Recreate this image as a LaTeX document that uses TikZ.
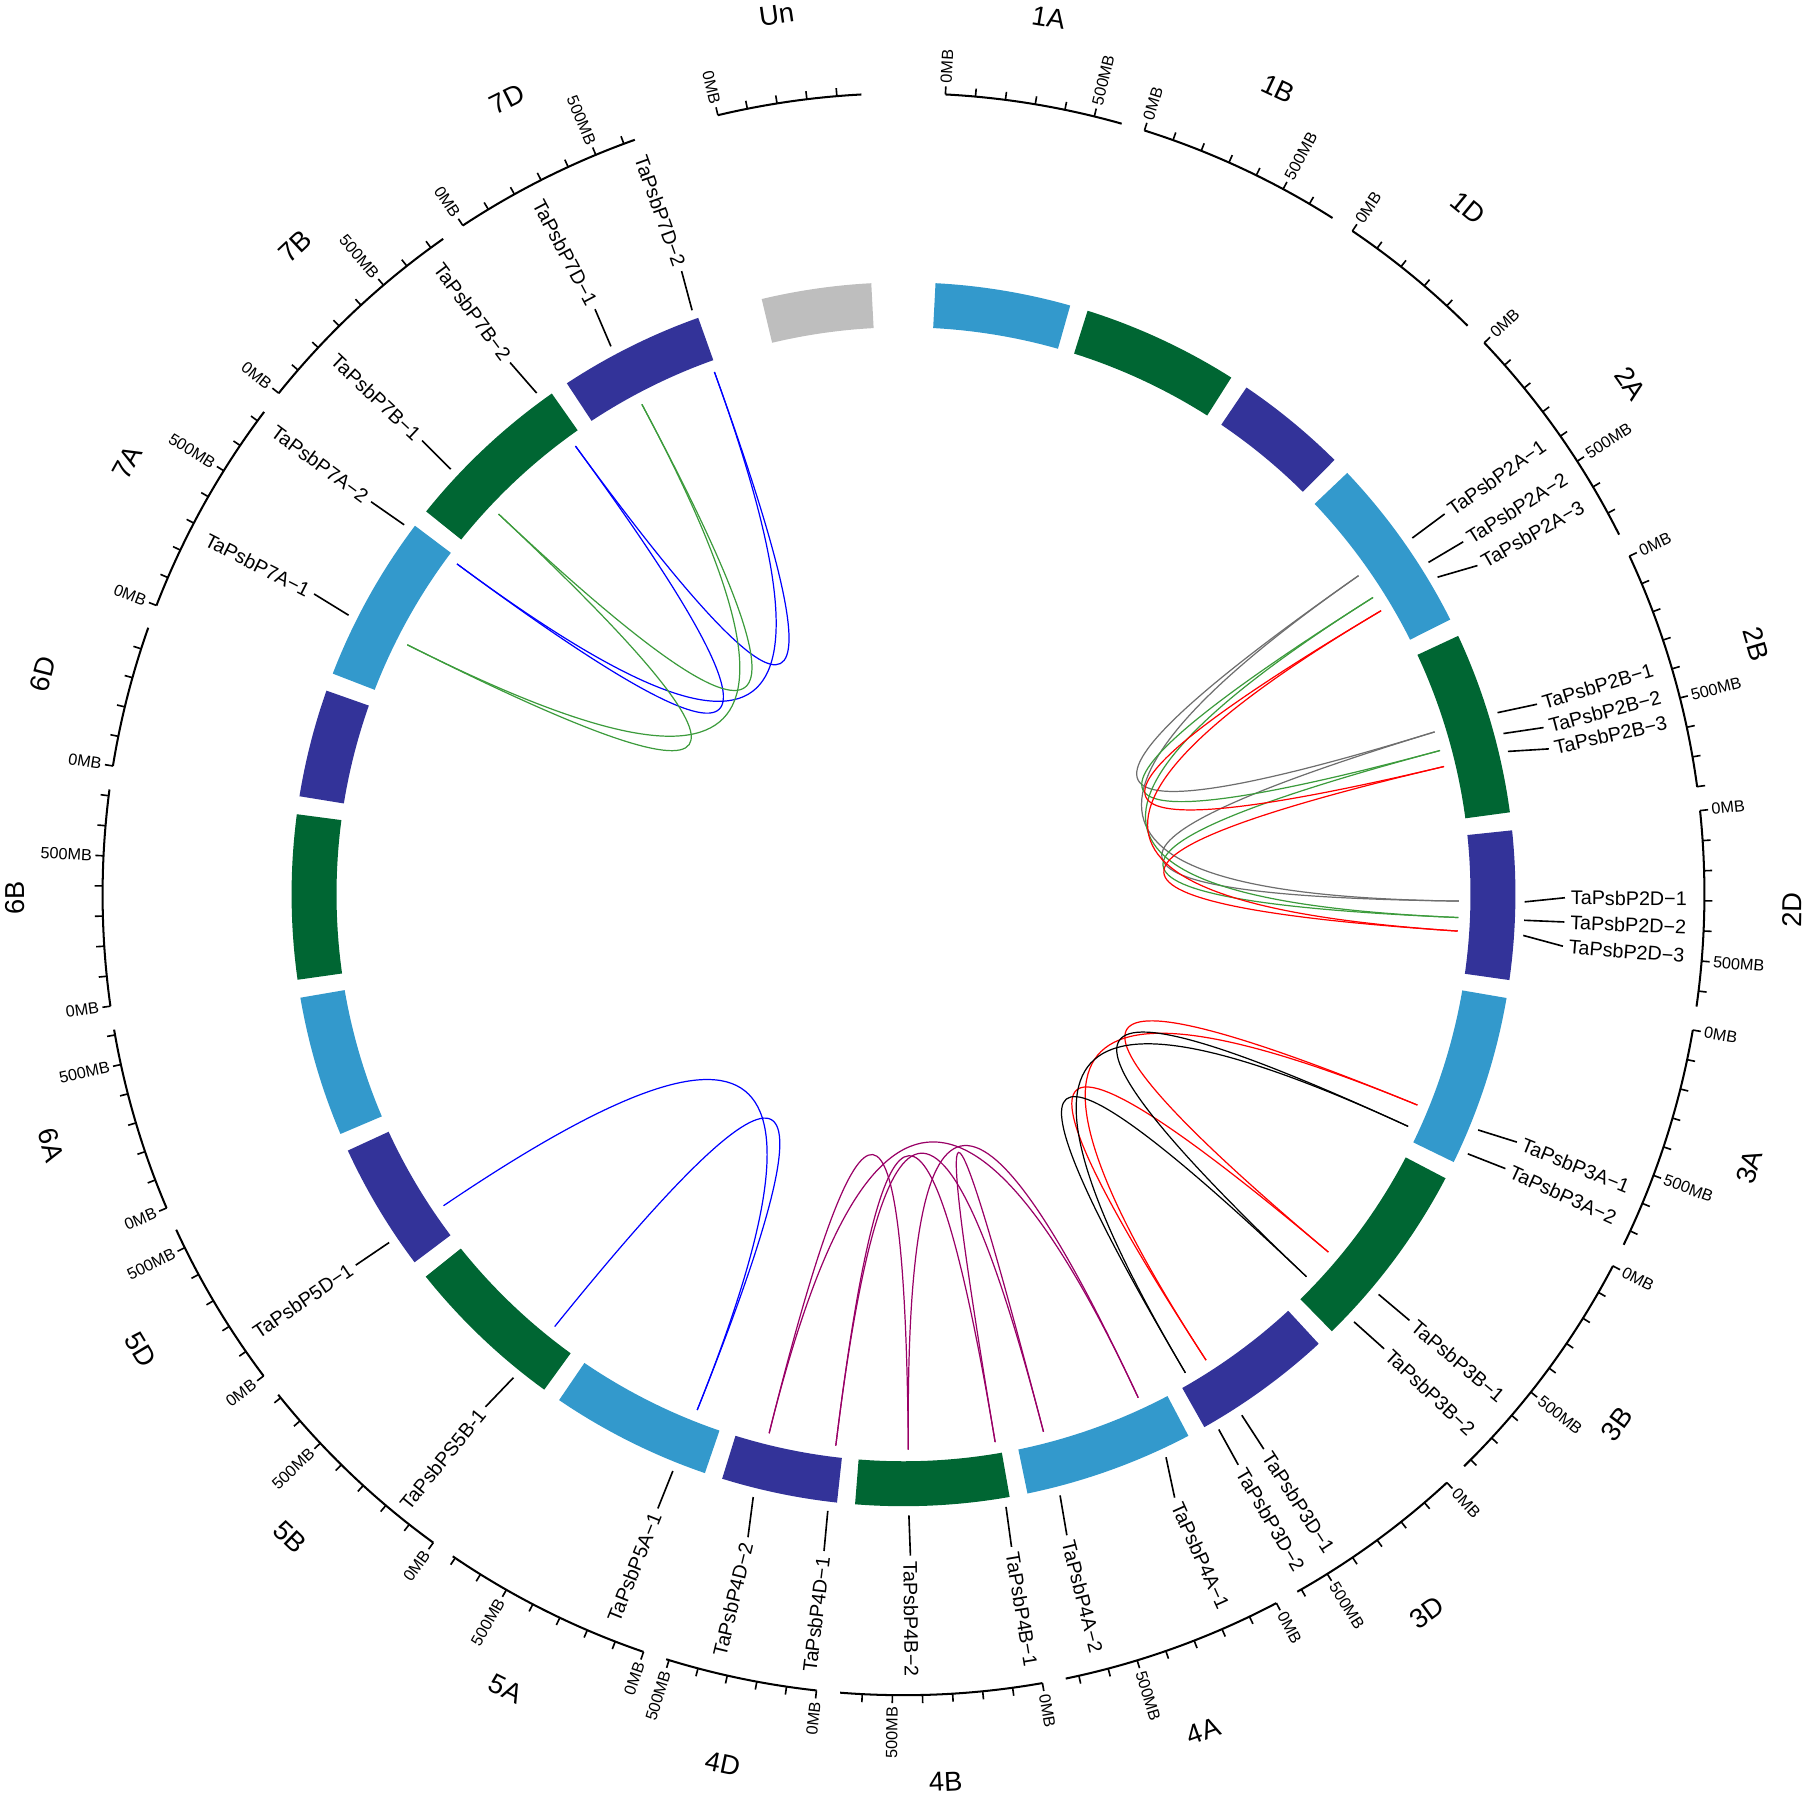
\documentclass[tikz,border=0pt]{standalone}
\usepackage{fontspec}
\setmainfont{Liberation Sans}
\definecolor{chrA}{RGB}{51,153,204}
\definecolor{chrB}{RGB}{0,102,51}
\definecolor{chrD}{RGB}{51,51,153}
\definecolor{chrU}{RGB}{190,190,190}
\definecolor{lnkgreen}{RGB}{60,155,60}
\definecolor{lnkgrey}{RGB}{110,110,110}
\definecolor{lnkpurple}{RGB}{153,0,102}
\tikzset{
    %Define style for the scale ring
    ruler/.style={line width=1pt},
    rulertick/.style={line width=0.8pt},
    ticklabel/.style={font=\fontsize{8}{9}\selectfont, inner sep=1pt},
    %Define style for labels
    chrlabel/.style={font=\fontsize{13.5}{14}\selectfont, inner sep=0pt},
    genelabel/.style={font=\fontsize{9.75}{10}\selectfont, inner sep=0.5pt},
    % Define line styles
    leader/.style={line width=0.8pt},
    link/.style={line width=0.6pt}
}
% radial text: name, angle from top (clockwise), radius, style, text
\newcommand{\radlabel}[5]{%
  \pgfmathsetmacro\rphi{90-#2}%
  \ifdim #2pt<180pt
    \node[#4,anchor=west,rotate=\rphi] (#1) at (\rphi:#3) {#5};%
  \else
    \pgfmathsetmacro\rrot{\rphi+180}%
    \node[#4,anchor=east,rotate=\rrot] (#1) at (\rphi:#3) {#5};%
  \fi}

\begin{document}
\begin{tikzpicture}[x=0.2mm,y=0.2mm]
\useasboundingbox (-784,-784) rectangle (784,776);

% chromosomes, scale ring and names
\foreach \n/\s/\w/\k/\col in {
  1A/3.00/12.81/5/chrA, 1B/17.51/14.88/6/chrB, 1D/34.09/10.69/4/chrD,
  2A/46.48/16.84/7/chrA, 2B/65.02/17.28/8/chrB, 2D/84.00/14.06/6/chrD,
  3A/99.76/16.19/7/chrA, 3B/117.65/17.92/8/chrB, 3D/137.27/13.28/6/chrD,
  4A/152.25/16.06/7/chrA, 4B/170.01/14.53/6/chrB, 4D/186.24/11.00/5/chrD,
  5A/198.94/15.31/7/chrA, 5B/215.95/15.38/7/chrB, 5D/233.03/12.21/5/chrD,
  6A/246.94/13.33/6/chrA, 6B/261.97/15.55/7/chrB, 6D/279.22/10.22/4/chrD,
  7A/291.14/15.89/7/chrA, 7B/308.73/16.19/7/chrB, 7D/326.62/13.78/6/chrD,
  Un/346.60/10.38/4/chrU}{
  \pgfmathsetmacro\pa{90-\s}
  \pgfmathsetmacro\pb{90-\s-\w}
  \fill[\col] (\pa:492) arc[start angle=\pa,end angle=\pb,radius=492]
     -- (\pb:531) arc[start angle=\pb,end angle=\pa,radius=531] -- cycle;
  \draw[ruler] (\pa:695) arc[start angle=\pa,end angle=\pb,radius=695];
  \foreach \i in {0,...,\k}
    \draw[rulertick] (\pa-2.157*\i:695) -- (\pa-2.157*\i:702);
  \radlabel{t0-\n}{\s}{703}{ticklabel}{0MB}
  \ifnum\k>4
    \pgfmathsetmacro\tf{\s+10.785}
    \radlabel{t5-\n}{\tf}{703}{ticklabel}{500MB}
  \fi
  \pgfmathsetmacro\chmid{\s+\w/2}
  \pgfmathsetmacro\crot{\chmid<90 ? -\chmid : (\chmid<269 ? 180-\chmid : 360-\chmid)}
  \node[chrlabel,rotate=\crot] (c-\n) at (90-\chmid:771) {\n};
}

% genes
\foreach \id/\g/\lt/\txt in {
  2A1/55.0/54.9/TaPsbP2A−1, 2A2/57.7/57.8/TaPsbP2A−2, 2A3/59.3/60.2/TaPsbP2A−3,
  2B1/73.0/73.3/TaPsbP2B−1, 2B2/75.0/75.4/TaPsbP2B−2, 2B3/76.7/77.3/TaPsbP2B−3,
  2D1/90.7/90.3/TaPsbP2D−1, 2D2/92.4/92.4/TaPsbP2D−2, 2D3/93.8/94.5/TaPsbP2D−3,
  3A1/112.3/112.0/TaPsbP3A−1, 3A2/114.7/114.5/TaPsbP3A−2,
  3B1/130.1/130.1/TaPsbP3B−1, 3B2/133.5/133.4/TaPsbP3B−2,
  3D1/147.0/147.0/TaPsbP3D−1, 3D2/149.5/149.6/TaPsbP3D−2,
  4A1/155.0/155.8/TaPsbP4A−1, 4A2/165.4/165.7/TaPsbP4A−2,
  4B1/170.5/170.6/TaPsbP4B−1, 4B2/179.5/179.4/TaPsbP4B−2,
  4D1/187.0/186.9/TaPsbP4D−1, 4D2/194.0/193.6/TaPsbP4D−2,
  5A1/201.8/201.8/TaPsbP5A−1, 5B1/218.9/219.2/TaPsbPS5B-1, 5D1/235.9/235.9/TaPsbP5D−1,
  7A1/296.7/297.0/TaPsbP7A−1, 7A2/306.5/306.4/TaPsbP7A−2,
  7B1/313.2/313.3/TaPsbP7B−1, 7B2/323.8/323.5/TaPsbP7B−2,
  7D1/331.9/332.2/TaPsbP7D−1, 7D2/340.1/340.4/TaPsbP7D−2}{
  \coordinate (L-\id) at (90-\g:482);
  \coordinate (C-\id) at (90-\g:145);
  \coordinate (A-\id) at (90-\g:539);
  \coordinate (B-\id) at (90-\lt:574);
  \draw[leader] (A-\id) -- (B-\id);
  \radlabel{T-\id}{\lt}{578}{genelabel}{\txt}
}

% links
\foreach \ga/\gb/\col in {
  7D2/7B2/blue, 7D2/7A2/blue, 7B2/7A2/blue,
  7D1/7B1/lnkgreen, 7D1/7A1/lnkgreen, 7B1/7A1/lnkgreen,
  2A1/2B1/lnkgrey, 2A1/2D1/lnkgrey, 2B1/2D1/lnkgrey,
  2A2/2B2/lnkgreen, 2A2/2D2/lnkgreen, 2B2/2D2/lnkgreen,
  2A3/2B3/red, 2A3/2D3/red, 2B3/2D3/red,
  3A1/3B1/red, 3A1/3D1/red, 3B1/3D1/red,
  3A2/3B2/black, 3A2/3D2/black, 3B2/3D2/black,
  4A1/4B2/lnkpurple, 4A1/4D2/lnkpurple, 4B2/4D2/lnkpurple,
  4A2/4B1/lnkpurple, 4A2/4D1/lnkpurple, 4B1/4D1/lnkpurple,
  5D1/5A1/blue, 5B1/5A1/blue}
  \draw[link,draw=\col] (L-\ga) .. controls (C-\ga) and (C-\gb) .. (L-\gb);
\end{tikzpicture}
\end{document}
